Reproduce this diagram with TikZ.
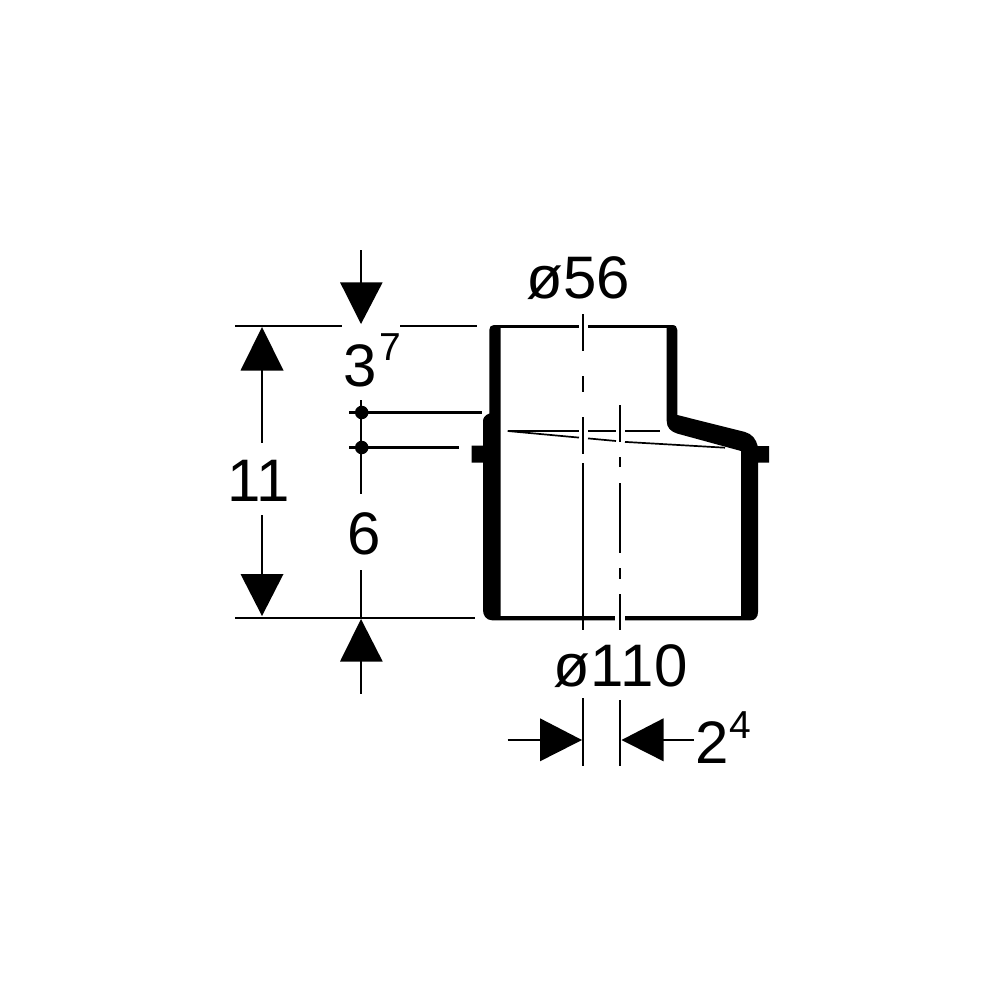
\documentclass[tikz,border=0pt]{standalone}
\usepackage{fontspec}
\setmainfont{Liberation Sans}
\tikzset{
  thin line/.style={line width=2.3pt,black},
  hair line/.style={line width=1.7pt,black},
  solid part/.style={fill=black,draw=none},
  head/.style={fill=black,draw=none},
  big label/.style={inner sep=0pt,anchor=base west,font=\fontsize{60}{60}\selectfont},
  sup label/.style={inner sep=0pt,anchor=base west,font=\fontsize{39}{39}\selectfont},
  pin/.style={circle,fill=black,inner sep=0pt,minimum size=13.5pt}
}
\begin{document}
\begin{tikzpicture}[x=1pt,y=-1pt]
\useasboundingbox (0,0) rectangle (1000,1000);
% body
\path[solid part] (494,325) -- (500.5,325) -- (500.5,616) -- (741,616) -- (741,451) -- (677,433.5)
  .. controls (671,431.5) and (666.7,428) .. (666.7,421) -- (666.7,325) -- (672,325)
  .. controls (675.5,325) and (677.3,327) .. (677.3,330) -- (677.3,415) -- (745,432)
  .. controls (752,434) and (756,439) .. (757.7,446) -- (769,446) -- (769,462.7) -- (758,462.7)
  -- (758,612) .. controls (758,617) and (755,620.3) .. (751,620.3) -- (492,620.3)
  .. controls (486,620.3) and (483,615) .. (483,610) -- (483,462.7) -- (471.7,462.7) -- (471.7,445.7)
  -- (483,445.7) -- (483,421) .. controls (483,418) and (485,415) .. (489.3,413.5) -- (489.3,330)
  .. controls (489.3,327) and (491,325) .. (494,325) -- cycle;
\path[fill=black] (500,325) rectangle (667,327.6);
% gaps
\path[fill=white] (579,323) rectangle (588,330);
\path[fill=white] (615,614) rectangle (624.5,622);
% labels
\node[big label] (d56) at (526.5,298) {ø56};
\node[big label] (d110) at (553.5,686) {ø1\kern-3pt 10};
\node[big label] (t3) at (343,386) {3};
\node[sup label] (s7) at (379,360.5) {7};
\node[big label] (t11) at (227,501.5) {11};
\node[big label] (t6) at (347,554.5) {6};
\node[big label] (t2) at (695.5,763) {2};
\node[sup label] (s4) at (729.5,738) {4};
% extension lines
\coordinate (ta) at (235,325.7); \coordinate (tb) at (341.7,325.7);
\coordinate (tc) at (400,325.7); \coordinate (td) at (477,325.7);
\draw[thin line] (ta) -- (tb) (tc) -- (td);
\coordinate (ba) at (235,617.7); \coordinate (bb) at (475,617.7);
\draw[thin line] (ba) -- (bb);
% 11 arrows
\coordinate (u1) at (262,327); \coordinate (u2) at (262,443);
\coordinate (d1) at (262,515); \coordinate (d2) at (262,616);
\draw[thin line] (262,368) -- (u2) (d1) -- (262,576);
\path[head] (u1) -- (283.5,370.5) -- (240.5,370.5) -- cycle;
\path[head] (d2) -- (283.5,574) -- (240.5,574) -- cycle;
% 3^7 / 6 arrows
\coordinate (a1) at (361,250);
\draw[thin line] (a1) -- (361,284);
\path[head] (361,324) -- (382.7,282.3) -- (340,282.3) -- cycle;
\coordinate (a2) at (361,694);
\draw[thin line] (361,659) -- (a2);
\path[head] (361,619) -- (382.7,661.5) -- (340,661.5) -- cycle;
\coordinate (a3) at (361,570); \coordinate (a4) at (361,617);
\draw[thin line] (a3) -- (a4);
% pins
\node[pin] (p1) at (361.7,412.5) {};
\node[pin] (p2) at (361.7,447.5) {};
\coordinate (vt) at (361,400); \coordinate (vb) at (361,494);
\draw[thin line] (vt) -- (vb);
\coordinate (h1) at (349,412.5); \coordinate (h2) at (482,412.5);
\coordinate (h3) at (349,447.5); \coordinate (h4) at (458.5,447.5);
\draw[thin line] (h1) -- (h2) (h3) -- (h4);
% centre lines
\draw[thin line] (583.3,314) -- (583.3,350.7) (583.3,376) -- (583.3,391.7)
  (583.3,417.3) -- (583.3,454) (583.3,463.3) -- (583.3,630);
\draw[thin line] (620,405) -- (620,442.3) (620,457.3) -- (620,467.3)
  (620,483.3) -- (620,553.3) (620,568.3) -- (620,578.7) (620,594.3) -- (620,630);
% transition lines
\draw[hair line] (507.7,431) -- (579,431) (588,431) -- (616,431) (625,431) -- (660,431);
\draw[hair line] (507.7,431) -- (579,437.6) (588,438.4) -- (616,441) (625,441.9) -- (725,447.7);
% bottom dim
\draw[thin line] (583.3,698) -- (583.3,766) (620,700) -- (620,766);
\coordinate (l1) at (507.5,740); \coordinate (r1) at (694,740);
\draw[thin line] (l1) -- (542,740) (662,740) -- (r1);
\path[head] (582,740) -- (540,718.3) -- (540,761.3) -- cycle;
\path[head] (621.5,740) -- (663.5,718.3) -- (663.5,761.3) -- cycle;
\end{tikzpicture}
\end{document}
